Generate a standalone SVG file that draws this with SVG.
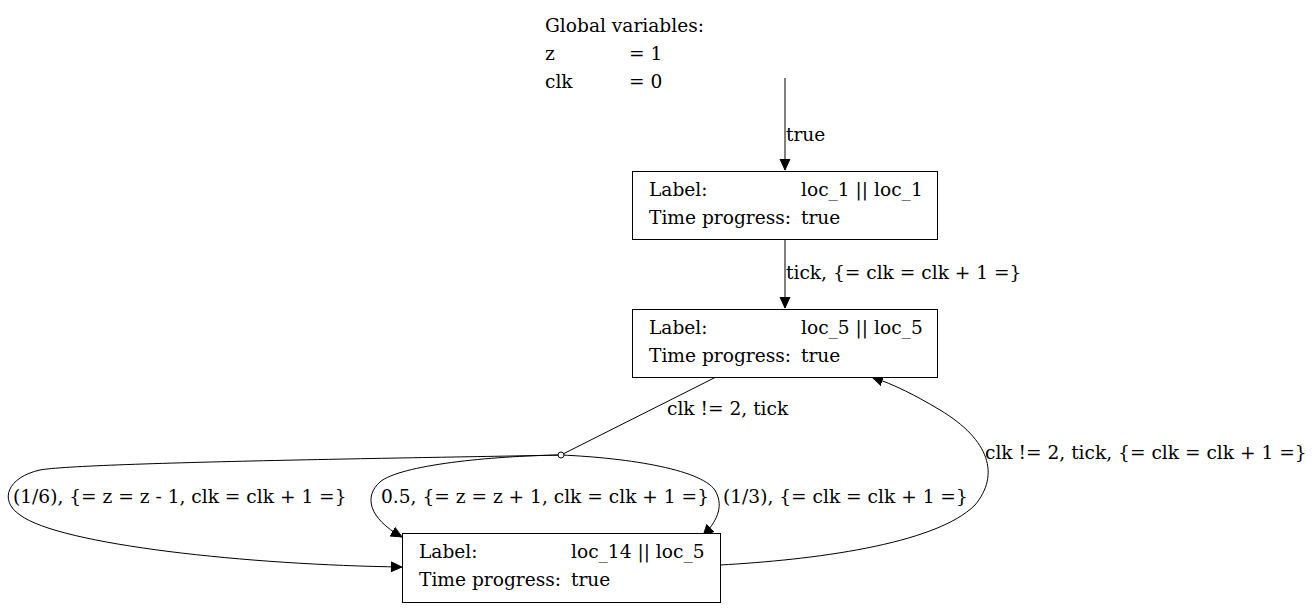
<svg xmlns="http://www.w3.org/2000/svg" width="1315" height="608" viewBox="0 0 1315 608">
<style>
text{font-family:"DejaVu Serif","Liberation Serif",serif;font-size:18.6px;fill:#000}
.box{fill:#fff;stroke:#000;stroke-width:1}
.edge{fill:none;stroke:#000;stroke-width:1}
</style>
<defs>
<marker id="ah" markerUnits="userSpaceOnUse" markerWidth="12" markerHeight="12" refX="11" refY="5.5" orient="auto" viewBox="0 0 12 12">
<path d="M0,0.5 L11,5.5 L0,10.5 z" fill="#000" stroke="#000"/>
</marker>
</defs>
<rect width="1315" height="608" fill="#fff"/>
<g id="globals">
<text x="545" y="32">Global variables:</text>
<text x="545" y="60">z</text><text x="629" y="60">= 1</text>
<text x="545" y="88">clk</text><text x="629" y="88">= 0</text>
</g>
<g id="edges">
<path class="edge" d="M785,78 L785,170" marker-end="url(#ah)"/>
<text x="786" y="141">true</text>
<path class="edge" d="M785,240 L785,308" marker-end="url(#ah)"/>
<text x="786" y="279">tick, {= clk = clk + 1 =}</text>
<path class="edge" d="M716,377 L561,455"/>
<text x="667" y="415">clk != 2, tick</text>
<path class="edge" d="M561,455 C480,457 80,462 40,470 C8,477 -2,500 20,515 C60,545 250,565 402,567" marker-end="url(#ah)"/>
<text x="13" y="503">(1/6), {= z = z - 1, clk = clk + 1 =}</text>
<path class="edge" d="M561,455 C490,456 400,465 380,482 C364,496 368,518 402,537" marker-end="url(#ah)"/>
<text x="381" y="503">0.5, {= z = z + 1, clk = clk + 1 =}</text>
<path class="edge" d="M561,455 C630,458 705,470 716,492 C724,508 716,522 703,536" marker-end="url(#ah)"/>
<text x="723" y="503">(1/3), {= clk = clk + 1 =}</text>
<path class="edge" d="M720,565 C810,560 935,545 975,505 C1000,475 990,440 940,410 C915,395 895,385 872,377" marker-end="url(#ah)"/>
<text x="985" y="459">clk != 2, tick, {= clk = clk + 1 =}</text>
<circle cx="561" cy="455" r="3" fill="#fff" stroke="#000"/>
</g>
<g id="node1">
<rect class="box" x="632.5" y="171.5" width="305" height="68"/>
<text x="649" y="196">Label:</text><text x="801" y="196">loc_1 || loc_1</text>
<text x="649" y="224">Time progress:</text><text x="801" y="224">true</text>
</g>
<g id="node2">
<rect class="box" x="632.5" y="309.5" width="305" height="68"/>
<text x="649" y="334">Label:</text><text x="801" y="334">loc_5 || loc_5</text>
<text x="649" y="362">Time progress:</text><text x="801" y="362">true</text>
</g>
<g id="node3">
<rect class="box" x="402.5" y="533.5" width="318" height="69"/>
<text x="419" y="558">Label:</text><text x="571" y="558">loc_14 || loc_5</text>
<text x="419" y="586">Time progress:</text><text x="571" y="586">true</text>
</g>
</svg>
